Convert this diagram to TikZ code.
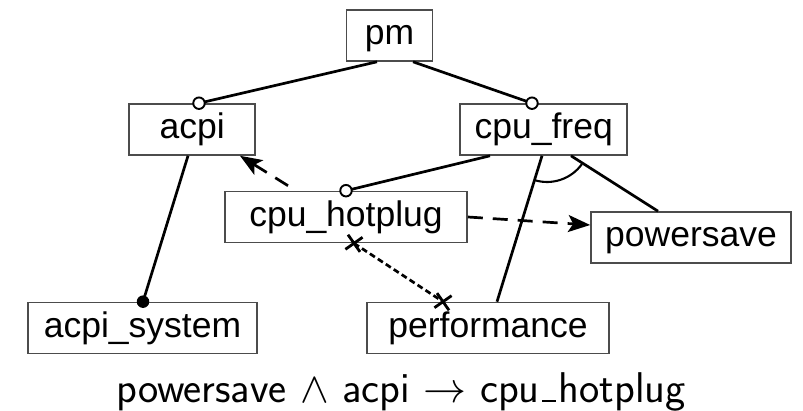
\RequirePackage{fix-cm}
\documentclass[tikz,border=0pt]{standalone}
\usepackage{fontspec}
\setmainfont{Liberation Sans}
\usetikzlibrary{arrows.meta,calc,shapes.misc}

\tikzset{
  feat/.style={draw=black!70, line width=1.6pt, rectangle, minimum height=51pt,
    inner sep=0pt, text height=35pt, text depth=16pt,
    font=\fontsize{35.5}{40}\selectfont},
  conn/.style={line width=2.7pt, black},
  opt/.style={circle, draw=black, line width=1.9pt, fill=white, minimum size=11.5pt, inner sep=0pt},
  mand/.style={circle, fill=black, minimum size=12.5pt, inner sep=0pt},
  req/.style={line width=2.7pt, dash pattern=on 15pt off 10pt,
    -{Stealth[length=22pt,width=17pt,inset=5pt]}},
  excl/.style={line width=2.7pt, dash pattern=on 6pt off 3.5pt},
  xmark/.style={cross out, draw=black, line width=2.8pt, minimum size=12pt, inner sep=0pt}
}

\newcommand{\lowbar}{\kern.06em\rule{0.32em}{2pt}\kern.06em}

\begin{document}
\begin{tikzpicture}[x=1pt,y=1pt]
  \useasboundingbox (0,0) rectangle (803,411);

  % feature boxes
  \node[feat, minimum width=86pt]  (pm)    at (389.5,375.5) {pm};
  \node[feat, minimum width=126pt] (acpi)  at (192.2,281.5) {acpi};
  \node[feat, minimum width=167pt] (freq)  at (543.7,281.5) {cpu\_freq};
  \node[feat, minimum width=242pt] (hot)   at (346,194) {cpu\_hotplug};
  \node[feat, minimum width=200pt] (save)  at (691,173.5) {powersave};
  \node[feat, minimum width=229pt] (sys)   at (142.5,83) {acpi\_system};
  \node[feat, minimum width=242pt] (perf)  at (488,83) {performance};

  % attachment points
  \coordinate (pmL)   at ($(pm.south)+(-12.5,0)$);
  \coordinate (pmR)   at ($(pm.south)+(23.5,0)$);
  \coordinate (acpiT) at ($(acpi.north)+(6.8,0)$);
  \coordinate (freqT) at ($(freq.north)+(-11.7,0)$);
  \coordinate (acpiB) at ($(acpi.south)+(-4.2,0)$);
  \coordinate (sysT)  at ($(sys.north)+(0.5,0)$);
  \coordinate (freqB1) at ($(freq.south)+(-53.7,0)$);
  \coordinate (freqB2) at ($(freq.south)+(-1.7,0)$);
  \coordinate (freqB3) at ($(freq.south)+(27.3,0)$);
  \coordinate (hotT)  at (hot.north);
  \coordinate (perfT) at ($(perf.north)+(9,0)$);
  \coordinate (saveT) at ($(save.north)+(-33,0)$);

  % tree edges
  \draw[conn] (pmL) -- (acpiT);
  \draw[conn] (pmR) -- (freqT);
  \draw[conn] (acpiB) -- (sysT);
  \draw[conn] (freqB1) -- (hotT);
  \draw[conn] (freqB2) -- (perfT);
  \draw[conn] (freqB3) -- (saveT);

  % alternative group arc
  \draw[conn, line width=2.1pt] (547,272) ++(253.7:43) arc[start angle=253.7, end angle=324.2, radius=43];

  % optional / mandatory markers
  \node[opt]  (o1) at (acpiT) {};
  \node[opt]  (o2) at (freqT) {};
  \node[opt]  (o3) at (hotT) {};
  \node[mand] (m1) at (sysT) {};

  % requires constraints
  \coordinate (hotTL)  at ($(hot.north)+(-58,5)$);
  \coordinate (acpiBR) at ($(acpi.south)+(47.8,0)$);
  \draw[req] (hotTL) -- (acpiBR);
  \coordinate (saveL) at ($(save.west)+(0,12.5)$);
  \draw[req] (hot.east) -- (saveL);

  % excludes constraint
  \coordinate (hotB)  at ($(hot.south)+(8,0)$);
  \coordinate (perfTL) at ($(perf.north)+(-45,0)$);
  \draw[excl] (hotB) -- (perfTL);
  \node[xmark, rotate=-10] (x1) at (hotB) {};
  \node[xmark, rotate=-10] (x2) at (perfTL) {};

  % cross-tree formula
  \node[anchor=base, inner sep=0pt, font=\sffamily\fontsize{43}{48}\selectfont] (formula) at (401,8.5)
    {powersave $\wedge$ acpi $\rightarrow$ cpu\lowbar hotplug};
\end{tikzpicture}
\end{document}
